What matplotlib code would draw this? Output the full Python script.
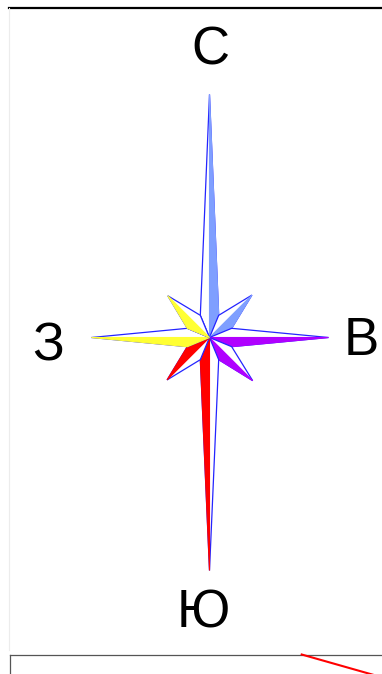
import numpy as np
import matplotlib
matplotlib.use("Agg")
import matplotlib.pyplot as plt
from matplotlib.patches import Polygon
from matplotlib.lines import Line2D

# wind rose: ray length per direction, clockwise from north
directions = ["С", "СВ", "В", "ЮВ", "Ю", "ЮЗ", "З", "СЗ"]
bearings = [0, 45, 90, 135, 180, 225, 270, 315]
values = [24.3, 6.0, 11.9, 6.1, 23.3, 6.0, 11.8, 5.9]
ray_colors = ["#7f9fff", "#7f9fff", "#b000ff", "#b000ff",
              "#ff0000", "#ff0000", "#ffff33", "#ffff33"]
# which half of the ray is filled: 1 = clockwise half, -1 = counter-clockwise half
fill_side = [1, 1, 1, 1, 1, 1, -1, -1]
inner_r = 2.4

# compass labels
label_text = ["С", "В", "Ю", "З"]
label_x = [0.05, 15.2, -0.65, -16.1]
label_y = [27.3, -1.75, -28.95, -2.25]


def point(r, bearing):
    b = np.radians(bearing)
    return (r * np.sin(b), r * np.cos(b))


fig = plt.figure(figsize=(3.82, 6.74), dpi=100)
ax = fig.add_axes([0, 0, 1, 1])
ax.set_xlim(-20.95, 17.25)
ax.set_ylim(-33.65, 33.75)
ax.axis("off")

center = (0.0, 0.0)
for b, v, c, side in zip(bearings, values, ray_colors, fill_side):
    tip = point(v, b)
    ccw = point(inner_r, b - 22.5)
    cw = point(inner_r, b + 22.5)
    # whole kite, white with blue outline
    ax.add_patch(Polygon([center, ccw, tip, cw], closed=True,
                         facecolor="white", edgecolor="#2424ff", linewidth=0.9))
    # coloured half
    half = cw if side == 1 else ccw
    ax.add_patch(Polygon([center, tip, half], closed=True,
                         facecolor=c, edgecolor=c, linewidth=0.8))

for t, x, y in zip(label_text, label_x, label_y):
    ax.text(x, y, t, ha="center", va="baseline", fontsize=38,
            family=["Liberation Sans", "DejaVu Sans"], color="black")

# page frame pieces around the panel
W, H = 382.0, 674.0
def fx(px):
    return px / W
def fy(py):
    return 1 - py / H

fig.add_artist(Line2D([fx(9), 1], [fy(7.5), fy(7.5)], transform=fig.transFigure,
                      color="black", linewidth=1.6))
fig.add_artist(Line2D([fx(9), fx(9)], [fy(8), fy(650)], transform=fig.transFigure,
                      color="#ececec", linewidth=0.8))
fig.add_artist(Line2D([fx(9.5), 1], [fy(654.5), fy(654.5)], transform=fig.transFigure,
                      color="#555555", linewidth=0.9))
fig.add_artist(Line2D([fx(9.5), fx(9.5)], [fy(654.5), 0], transform=fig.transFigure,
                      color="#555555", linewidth=0.9))
fig.add_artist(Line2D([fx(301.7), fx(382)], [fy(654.5), fy(677.3)], transform=fig.transFigure,
                      color="#ff0000", linewidth=1.5))

fig.savefig("out.png", dpi=100)
